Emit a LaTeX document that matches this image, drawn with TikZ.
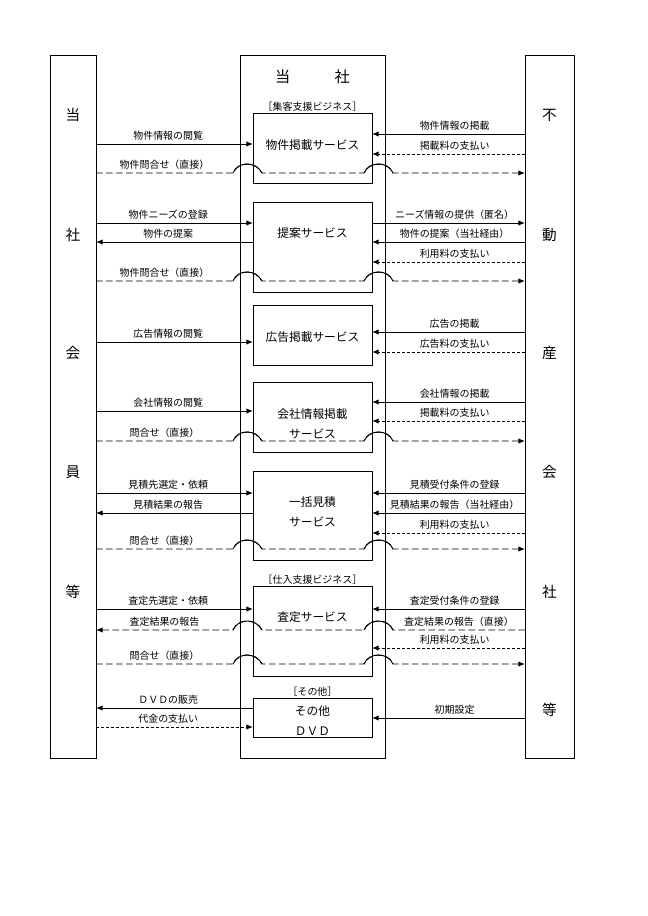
\documentclass[tikz,border=0pt]{standalone}
\usepackage{fontspec}
\usetikzlibrary{arrows.meta,fit}
\newfontfamily\jpfont{Noto Sans CJK JP}

\begin{document}
\begin{tikzpicture}[x=0.3mm,y=-0.3mm,
		lane/.style={draw,line width=0.8pt,inner sep=0pt,outer sep=0pt},
		lanetxt/.style={font=\jpfont\fontsize{12.5}{14}\selectfont},
		svctxt/.style={font=\jpfont\fontsize{10}{17}\selectfont,align=center},
		grp/.style={font=\jpfont\fontsize{8.5}{10}\selectfont,anchor=south,inner sep=1pt},
		lbl/.style={font=\jpfont\fontsize{8.5}{10}\selectfont,above=1.5pt,inner sep=1pt},
		lab/.style={lbl,pos=.46},
		labr/.style={lbl,pos=.54},
		arr/.style={line width=0.8pt,-{Latex[length=2mm,width=1.6mm]}},
		pay/.style={arr,dash pattern=on 0.9mm off 0.6mm},
		ask/.style={arr,dash pattern=on 2mm off 1mm},
		hop/.style={line width=0.8pt}]
		\useasboundingbox (0,0) rectangle (648,916);
		
		% Lanes
		\node[lane,fit={(50,55) (96,758)}] (L) {};
		\node[lane,fit={(240,55) (385,758)}] (C) {};
		\node[lane,fit={(525,55) (574,758)}] (R) {};
		\node[font=\jpfont\fontsize{13}{15}\selectfont] (C0) at (312.5,77) {当\hspace{2.9em}社};
		\foreach \c/\y [count=\i] in {当/115,社/235,会/353,員/472,等/592}
			\node[lanetxt] (L\i) at (73,\y) {\c};
		\foreach \c/\y [count=\i] in {不/115,動/235,産/353,会/472,社/592,等/710}
			\node[lanetxt] (R\i) at (549.5,\y) {\c};
		
		% Services
		\node[lane,fit={(253,113) (372,183)}] (b1) {};
		\node[lane,fit={(253,202) (372,292)}] (b2) {};
		\node[lane,fit={(253,305) (372,365)}] (b3) {};
		\node[lane,fit={(253,382) (372,452)}] (b4) {};
		\node[lane,fit={(253,471) (372,560)}] (b5) {};
		\node[lane,fit={(253,586) (372,676)}] (b6) {};
		\node[lane,fit={(253,698) (372,737)}] (b7) {};
		\node[grp] (g1) at (b1.north) {［集客支援ビジネス］};
		\node[grp] (g2) at (b6.north) {［仕入支援ビジネス］};
		\node[grp] (g3) at (b7.north) {［その他］};
		\node[svctxt] (s1) at (312.5,145) {物件掲載サービス};
		\node[svctxt] (s2) at (312.5,233) {提案サービス};
		\node[svctxt] (s3) at (312.5,337) {広告掲載サービス};
		\node[svctxt] (s4) at (312.5,423.5) {会社情報掲載\\サービス};
		\node[svctxt] (s5) at (312.5,512) {一括見積\\サービス};
		\node[svctxt] (s6) at (312.5,617) {査定サービス};
		\node[svctxt] (s7) at (312.5,720.5) {その他\\ＤＶＤ};
		
		% Box 1
		\draw[arr] (L.east |- 0,144) -- node[lab] (q1) {物件情報の閲覧} (b1.west |- 0,144);
		\draw[arr] (R.west |- 0,134) -- node[lab] (q2) {物件情報の掲載} (b1.east |- 0,134);
		\draw[pay] (R.west |- 0,154) -- node[lab] (q3) {掲載料の支払い} (b1.east |- 0,154);
		\draw[ask] (L.east |- 0,173) -- node[lbl] (q4) {物件問合せ（直接）} (233,173)
			.. controls (238,161) and (256,161) .. (262,173) -- (364,173)
			.. controls (369,161) and (388,161) .. (393,173) -- (R.west |- 0,173);
		
		% Box 2
		\draw[arr] (L.east |- 0,223) -- node[lab] (q5) {物件ニーズの登録} (b2.west |- 0,223);
		\draw[arr] (b2.west |- 0,242) -- node[labr] (q6) {物件の提案} (L.east |- 0,242);
		\draw[arr] (b2.east |- 0,223) -- node[labr] (q7) {ニーズ情報の提供（匿名）} (R.west |- 0,223);
		\draw[arr] (R.west |- 0,242) -- node[lab] (q8) {物件の提案（当社経由）} (b2.east |- 0,242);
		\draw[pay] (R.west |- 0,262) -- node[lab] (q9) {利用料の支払い} (b2.east |- 0,262);
		\draw[ask] (L.east |- 0,281) -- node[lbl] (q10) {物件問合せ（直接）} (233,281)
			.. controls (238,269) and (256,269) .. (262,281) -- (364,281)
			.. controls (369,269) and (388,269) .. (393,281) -- (R.west |- 0,281);
		
		% Box 3
		\draw[arr] (L.east |- 0,342) -- node[lab] (q11) {広告情報の閲覧} (b3.west |- 0,342);
		\draw[arr] (R.west |- 0,332) -- node[lab] (q12) {広告の掲載} (b3.east |- 0,332);
		\draw[pay] (R.west |- 0,352) -- node[lab] (q13) {広告料の支払い} (b3.east |- 0,352);
		
		% Box 4
		\draw[arr] (L.east |- 0,411) -- node[lab] (q14) {会社情報の閲覧} (b4.west |- 0,411);
		\draw[arr] (R.west |- 0,402) -- node[lab] (q15) {会社情報の掲載} (b4.east |- 0,402);
		\draw[pay] (R.west |- 0,421) -- node[lab] (q16) {掲載料の支払い} (b4.east |- 0,421);
		\draw[ask] (L.east |- 0,441) -- node[lbl] (q17) {問合せ（直接）} (233,441)
			.. controls (238,429) and (256,429) .. (262,441) -- (364,441)
			.. controls (369,429) and (388,429) .. (393,441) -- (R.west |- 0,441);
		
		% Box 5
		\draw[arr] (L.east |- 0,493) -- node[lab] (q18) {見積先選定・依頼} (b5.west |- 0,493);
		\draw[arr] (b5.west |- 0,513) -- node[labr] (q19) {見積結果の報告} (L.east |- 0,513);
		\draw[arr] (R.west |- 0,493) -- node[lab] (q20) {見積受付条件の登録} (b5.east |- 0,493);
		\draw[arr] (R.west |- 0,513) -- node[lab] (q21) {見積結果の報告（当社経由）} (b5.east |- 0,513);
		\draw[pay] (R.west |- 0,533) -- node[lab] (q22) {利用料の支払い} (b5.east |- 0,533);
		\draw[ask] (L.east |- 0,549) -- node[lbl] (q23) {問合せ（直接）} (233,549)
			.. controls (238,537) and (256,537) .. (262,549) -- (364,549)
			.. controls (369,537) and (388,537) .. (393,549) -- (R.west |- 0,549);
		
		% Box 6
		\draw[arr] (L.east |- 0,609) -- node[lab] (q24) {査定先選定・依頼} (b6.west |- 0,609);
		\draw[arr] (R.west |- 0,609) -- node[lab] (q25) {査定受付条件の登録} (b6.east |- 0,609);
		\draw[ask] (R.west |- 0,630) -- node[lbl] (q26) {査定結果の報告（直接）} (393,630)
			.. controls (388,618) and (369,618) .. (364,630) -- (262,630)
			.. controls (256,618) and (238,618) .. (233,630) -- node[lbl] (q27) {査定結果の報告} (L.east |- 0,630);
		\draw[pay] (R.west |- 0,648) -- node[lab] (q28) {利用料の支払い} (b6.east |- 0,648);
		\draw[ask] (L.east |- 0,664) -- node[lbl] (q29) {問合せ（直接）} (233,664)
			.. controls (238,652) and (256,652) .. (262,664) -- (364,664)
			.. controls (369,652) and (388,652) .. (393,664) -- (R.west |- 0,664);
		
		% Box 7
		\draw[arr] (b7.west |- 0,708) -- node[labr] (q30) {ＤＶＤの販売} (L.east |- 0,708);
		\draw[pay] (L.east |- 0,727) -- node[lab] (q31) {代金の支払い} (b7.west |- 0,727);
		\draw[arr] (R.west |- 0,718) -- node[lab] (q32) {初期設定} (b7.east |- 0,718);
		
		% Hops
		\foreach \y in {173,281,441,549,630,664} {
			\draw[hop] (233,\y) .. controls (238,\y-12) and (256,\y-12) .. (262,\y);
			\draw[hop] (364,\y) .. controls (369,\y-12) and (388,\y-12) .. (393,\y);
		}
		
\end{tikzpicture}
\end{document}
